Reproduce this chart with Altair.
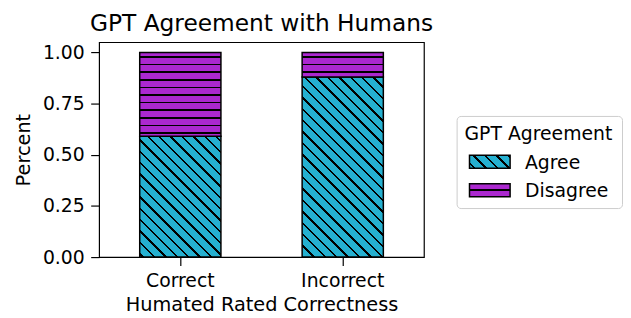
import math
import altair as alt
import pandas as pd

# ---------------- data ----------------
categories = ["Correct", "Incorrect"]
series = ["Agree", "Disagree"]
agree = [0.59, 0.88]
disagree = [0.41, 0.12]
y_ticks = [0.0, 0.25, 0.5, 0.75, 1.0]
legend_title = "GPT Agreement"

# ---------------- style ----------------
FONT = "DejaVu Sans"
FILL = {"Agree": "#25B0D0", "Disagree": "#AB28CF"}
PLOT_W, PLOT_H = 328, 217
Y_MAX = 1.05
PAD_INNER, PAD_OUTER = 0.5, 0.25
DIAG_SPACING, HORIZ_SPACING = 11.5, 7.67
DIAG_PHASE, HORIZ_PHASE = 0.0, 15.0  # hatch phase in plot pixel coords


def stripe_stops(fill, centers, half):
    stops = [{"offset": 0, "color": fill}]

    def add(o, c):
        stops.append({"offset": round(min(1.0, max(0.0, o)), 5), "color": c})

    for c in sorted(centers):
        if c + half < 0 or c - half > 1:
            continue
        add(c - half, fill)
        add(c - half, "black")
        add(c + half, "black")
        add(c + half, fill)
    stops.append({"offset": 1, "color": fill})
    return stops


def diag_gradient(fill, W, H, rel_phase, spacing=DIAG_SPACING, lw=1.7):
    # value t = x - y + H runs 0..W+H over the box; lines where x - y == rel_phase (mod spacing)
    L = W + H
    k = L / (W * W + H * H)
    first = (rel_phase + H) % spacing
    centers = []
    t = first - spacing
    while t <= L + spacing:
        centers.append(t / L)
        t += spacing
    half = lw * math.sqrt(2) / 2 / L
    return {"gradient": "linear", "x1": 0, "y1": 1, "x2": k * W, "y2": 1 - k * H,
            "stops": stripe_stops(fill, centers, half)}


def horiz_gradient(fill, H, rel_phase, spacing=HORIZ_SPACING, lw=1.6):
    first = rel_phase % spacing
    centers = []
    t = first - spacing
    while t <= H + spacing:
        centers.append(t / H)
        t += spacing
    half = lw / 2 / H
    return {"gradient": "linear", "x1": 0, "y1": 0, "x2": 0, "y2": 1,
            "stops": stripe_stops(fill, centers, half)}


step = PLOT_W / (len(categories) - PAD_INNER + 2 * PAD_OUTER)
bw = step * (1 - PAD_INNER)


def ypix(v):
    return PLOT_H * (1 - v / Y_MAX)


rows = []
for i, c in enumerate(categories):
    rows.append({"cat": c, "series": "Agree", "value": agree[i], "order": 0})
    rows.append({"cat": c, "series": "Disagree", "value": disagree[i], "order": 1})
df = pd.DataFrame(rows)

base = alt.Chart(df).transform_stack(
    stack="value", groupby=["cat"], as_=["v0", "v1"],
    sort=[alt.SortField("order", order="ascending")],
)

x_enc = alt.X(
    "cat:N", sort=categories,
    scale=alt.Scale(paddingInner=PAD_INNER, paddingOuter=PAD_OUTER),
    axis=alt.Axis(labelAngle=0, tickSize=8.5, labelPadding=6.5, titlePadding=5),
    title="Humated Rated Correctness",
)
y_enc = alt.Y(
    "v0:Q",
    scale=alt.Scale(domain=[0, Y_MAX], nice=False, zero=True),
    axis=alt.Axis(values=y_ticks, format=".2f", tickSize=8.5, labelPadding=6.5, titlePadding=8.5),
    title="Percent",
)

layers = []
for i, c in enumerate(categories):
    x0 = PAD_OUTER * step + i * step
    top_a = ypix(agree[i])
    g_a = diag_gradient(FILL["Agree"], bw, PLOT_H - top_a, DIAG_PHASE - x0 + top_a)
    top_d = ypix(agree[i] + disagree[i])
    g_d = horiz_gradient(FILL["Disagree"], top_a - top_d, HORIZ_PHASE - top_d)
    for s, g in (("Agree", g_a), ("Disagree", g_d)):
        layers.append(
            base.transform_filter(
                (alt.datum.cat == c) & (alt.datum.series == s)
            ).mark_bar(fill=g, stroke="black", strokeWidth=1.5).encode(
                x=x_enc, y=y_enc, y2="v1:Q"
            )
        )

main = alt.layer(*layers).properties(
    width=PLOT_W, height=PLOT_H,
    title=alt.TitleParams(
        "GPT Agreement with Humans", font=FONT, fontSize=23.5, fontWeight="normal",
        color="black", anchor="middle", offset=7,
    ),
    view=alt.ViewBackground(stroke="black", strokeWidth=1.2),
)

# ---------------- legend panel (same height as the plot area) ----------------
LEG_W = 168
SW_W, SW_H = 41, 13
ROW0, PITCH = 92.0, 28.75           # pixel centre of the legend title row and row pitch
BOX_TOP, BOX_BOTTOM = 75.0, 168.0   # legend frame, in panel pixels
leg_df = pd.DataFrame({"label": series, "row": [1, 2]})
t_df = pd.DataFrame({"label": [legend_title], "row": [0]})
ly = alt.Scale(domain=[0, 2], range=[ROW0, ROW0 + 2 * PITCH])
half_row = (SW_H / 2) / PITCH

frame = alt.Chart(t_df).transform_calculate(
    b0=f"{(BOX_TOP - ROW0) / PITCH}", b1=f"{(BOX_BOTTOM - ROW0) / PITCH}"
).mark_rect(fill="white", stroke="#cccccc", strokeWidth=1, cornerRadius=4).encode(
    x=alt.value(0.5), x2=alt.value(LEG_W - 0.5),
    y=alt.Y("b0:Q", scale=ly, axis=None), y2="b1:Q",
)
leg_layers = [frame]
leg_layers.append(
    alt.Chart(t_df).mark_text(
        align="left", baseline="middle", font=FONT, fontSize=19, color="black", dy=1
    ).encode(x=alt.value(8), y=alt.Y("row:Q", scale=ly, axis=None), text="label:N")
)
sw_grads = {
    "Agree": diag_gradient(FILL["Agree"], SW_W, SW_H, 4.0),
    "Disagree": horiz_gradient(FILL["Disagree"], SW_H, SW_H / 2),
}
for s in series:
    leg_layers.append(
        alt.Chart(leg_df).transform_filter(alt.datum.label == s).transform_calculate(
            r0=alt.datum.row - half_row, r1=alt.datum.row + half_row
        ).mark_rect(fill=sw_grads[s], stroke="black", strokeWidth=1.5).encode(
            x=alt.value(13), x2=alt.value(13 + SW_W),
            y=alt.Y("r0:Q", scale=ly, axis=None), y2="r1:Q",
        )
    )
leg_layers.append(
    alt.Chart(leg_df).mark_text(
        align="left", baseline="middle", font=FONT, fontSize=19, color="black", dy=1
    ).encode(x=alt.value(69), y=alt.Y("row:Q", scale=ly, axis=None), text="label:N")
)
legend = alt.layer(*leg_layers).properties(width=LEG_W, height=PLOT_H)

chart = alt.hconcat(main, legend, spacing=23).properties(
    padding={"left": 5, "top": 1, "right": 0, "bottom": 0}
).configure_axis(
    labelFont=FONT, titleFont=FONT, labelFontSize=19, titleFontSize=19.5,
    titleFontWeight="normal", labelColor="black", titleColor="black",
    tickColor="black", tickWidth=1.2, domain=False, grid=False,
).configure_view(stroke=None)

chart.save("out.html", embed_options={"renderer": "svg", "actions": False})
